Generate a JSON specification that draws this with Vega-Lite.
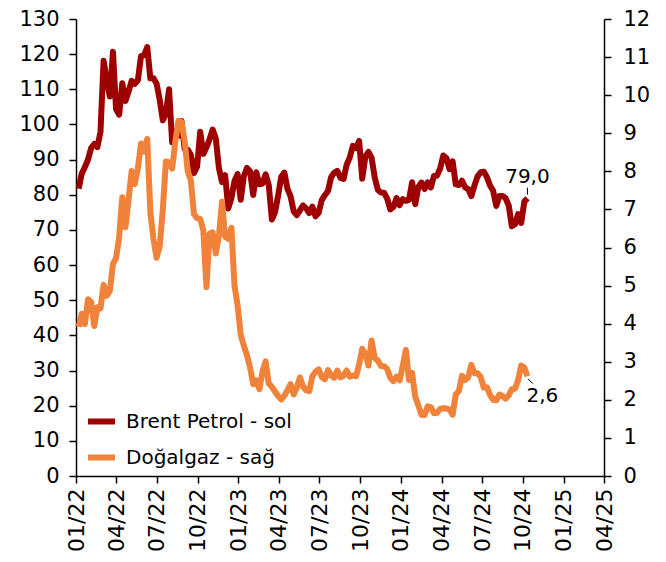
{
  "$schema": "https://vega.github.io/schema/vega-lite/v6.json",
  "width": 528,
  "height": 457,
  "autosize": "none",
  "padding": {"left": 76, "top": 19, "right": 62, "bottom": 86},
  "background": "white",
  "config": {
    "view": {"stroke": null},
    "font": "DejaVu Sans",
    "axis": {
      "labelFont": "DejaVu Sans",
      "labelFontSize": 21,
      "labelColor": "black",
      "domainColor": "black",
      "tickColor": "black",
      "domainWidth": 1.5,
      "tickWidth": 1.5,
      "tickSize": 7,
      "grid": false,
      "title": null,
      "labelOverlap": false,
      "labelFlush": false,
      "labelBound": false
    }
  },
  "datasets": {
    "prices": [
      {"d":"2022-01-07","b":81.75,"g":3.92},{"d":"2022-01-14","b":86.06,"g":4.26},{"d":"2022-01-21","b":87.89,"g":3.99},{"d":"2022-01-28","b":90.03,"g":4.64},
      {"d":"2022-02-04","b":93.27,"g":4.57},{"d":"2022-02-11","b":94.44,"g":3.94},{"d":"2022-02-18","b":93.54,"g":4.43},{"d":"2022-02-25","b":97.93,"g":4.40},
      {"d":"2022-03-04","b":118.11,"g":5.02},{"d":"2022-03-11","b":112.67,"g":4.73},{"d":"2022-03-18","b":107.93,"g":4.86},{"d":"2022-03-25","b":120.65,"g":5.57},
      {"d":"2022-04-01","b":104.39,"g":5.72},{"d":"2022-04-08","b":102.78,"g":6.28},{"d":"2022-04-15","b":111.70,"g":7.32},{"d":"2022-04-22","b":106.65,"g":6.53},{"d":"2022-04-29","b":109.34,"g":7.24},
      {"d":"2022-05-06","b":112.39,"g":8.01},{"d":"2022-05-13","b":111.55,"g":7.66},{"d":"2022-05-20","b":112.55,"g":8.08},{"d":"2022-05-27","b":119.43,"g":8.73},
      {"d":"2022-06-03","b":119.72,"g":8.52},{"d":"2022-06-10","b":122.01,"g":8.85},{"d":"2022-06-17","b":113.12,"g":6.93},{"d":"2022-06-24","b":113.12,"g":6.22},
      {"d":"2022-07-01","b":111.63,"g":5.73},{"d":"2022-07-08","b":107.02,"g":6.03},{"d":"2022-07-15","b":101.16,"g":7.00},{"d":"2022-07-22","b":103.20,"g":8.26},{"d":"2022-07-29","b":110.01,"g":8.23},
      {"d":"2022-08-05","b":94.92,"g":8.07},{"d":"2022-08-12","b":98.15,"g":8.77},{"d":"2022-08-19","b":96.72,"g":9.33},{"d":"2022-08-26","b":100.99,"g":9.30},
      {"d":"2022-09-02","b":93.02,"g":8.80},{"d":"2022-09-09","b":92.84,"g":8.00},{"d":"2022-09-16","b":91.35,"g":7.76},{"d":"2022-09-23","b":86.15,"g":6.88},{"d":"2022-09-30","b":87.96,"g":6.77},
      {"d":"2022-10-07","b":97.92,"g":6.75},{"d":"2022-10-14","b":91.63,"g":6.45},{"d":"2022-10-21","b":93.50,"g":4.96},{"d":"2022-10-28","b":95.77,"g":6.36},
      {"d":"2022-11-04","b":98.57,"g":6.40},{"d":"2022-11-11","b":95.99,"g":5.84},{"d":"2022-11-18","b":87.62,"g":6.30},{"d":"2022-11-25","b":83.63,"g":7.20},
      {"d":"2022-12-02","b":85.57,"g":6.28},{"d":"2022-12-09","b":76.10,"g":6.23},{"d":"2022-12-16","b":79.04,"g":6.52},{"d":"2022-12-23","b":83.92,"g":5.00},{"d":"2022-12-30","b":85.91,"g":4.48},
      {"d":"2023-01-06","b":78.57,"g":3.71},{"d":"2023-01-13","b":85.28,"g":3.42},{"d":"2023-01-20","b":87.63,"g":3.17},{"d":"2023-01-27","b":86.66,"g":2.85},
      {"d":"2023-02-03","b":79.94,"g":2.41},{"d":"2023-02-10","b":86.39,"g":2.51},{"d":"2023-02-17","b":83.00,"g":2.28},{"d":"2023-02-24","b":83.16,"g":2.75},
      {"d":"2023-03-03","b":85.83,"g":3.01},{"d":"2023-03-10","b":82.78,"g":2.43},{"d":"2023-03-17","b":72.97,"g":2.34},{"d":"2023-03-24","b":74.99,"g":2.22},{"d":"2023-03-31","b":79.77,"g":2.10},
      {"d":"2023-04-07","b":85.12,"g":2.01},{"d":"2023-04-14","b":86.31,"g":2.11},{"d":"2023-04-21","b":81.66,"g":2.25},{"d":"2023-04-28","b":79.54,"g":2.41},
      {"d":"2023-05-05","b":75.30,"g":2.14},{"d":"2023-05-12","b":74.17,"g":2.32},{"d":"2023-05-19","b":75.58,"g":2.59},{"d":"2023-05-26","b":76.95,"g":2.35},
      {"d":"2023-06-02","b":76.13,"g":2.25},{"d":"2023-06-09","b":74.79,"g":2.23},{"d":"2023-06-16","b":76.61,"g":2.62},{"d":"2023-06-23","b":73.85,"g":2.74},{"d":"2023-06-30","b":74.90,"g":2.80},
      {"d":"2023-07-07","b":78.47,"g":2.60},{"d":"2023-07-14","b":79.87,"g":2.54},{"d":"2023-07-21","b":81.07,"g":2.78},{"d":"2023-07-28","b":84.99,"g":2.64},
      {"d":"2023-08-04","b":86.24,"g":2.58},{"d":"2023-08-11","b":86.81,"g":2.77},{"d":"2023-08-18","b":84.80,"g":2.59},{"d":"2023-08-25","b":84.48,"g":2.63},
      {"d":"2023-09-01","b":88.55,"g":2.77},{"d":"2023-09-08","b":90.65,"g":2.61},{"d":"2023-09-15","b":93.93,"g":2.64},{"d":"2023-09-22","b":93.27,"g":2.62},{"d":"2023-09-29","b":95.31,"g":2.93},
      {"d":"2023-10-06","b":84.58,"g":3.34},{"d":"2023-10-13","b":90.89,"g":3.21},{"d":"2023-10-20","b":92.16,"g":2.90},{"d":"2023-10-27","b":90.48,"g":3.56},
      {"d":"2023-11-03","b":84.89,"g":3.10},{"d":"2023-11-10","b":81.43,"g":3.03},{"d":"2023-11-17","b":80.61,"g":2.89},{"d":"2023-11-24","b":80.58,"g":2.88},
      {"d":"2023-12-01","b":78.88,"g":2.81},{"d":"2023-12-08","b":75.84,"g":2.58},{"d":"2023-12-15","b":76.55,"g":2.49},{"d":"2023-12-22","b":79.07,"g":2.61},{"d":"2023-12-29","b":77.04,"g":2.51},
      {"d":"2024-01-05","b":78.76,"g":2.89},{"d":"2024-01-12","b":78.29,"g":3.31},{"d":"2024-01-19","b":78.56,"g":2.52},{"d":"2024-01-26","b":83.55,"g":2.71},
      {"d":"2024-02-02","b":77.33,"g":2.08},{"d":"2024-02-09","b":82.19,"g":1.85},{"d":"2024-02-16","b":83.47,"g":1.61},{"d":"2024-02-23","b":81.62,"g":1.60},
      {"d":"2024-03-01","b":83.55,"g":1.83},{"d":"2024-03-08","b":82.08,"g":1.81},{"d":"2024-03-15","b":85.34,"g":1.65},{"d":"2024-03-22","b":85.43,"g":1.66},{"d":"2024-03-29","b":87.48,"g":1.76},
      {"d":"2024-04-05","b":91.17,"g":1.78},{"d":"2024-04-12","b":90.45,"g":1.77},{"d":"2024-04-19","b":87.29,"g":1.75},{"d":"2024-04-26","b":89.50,"g":1.61},
      {"d":"2024-05-03","b":82.96,"g":2.14},{"d":"2024-05-10","b":82.79,"g":2.23},{"d":"2024-05-17","b":83.98,"g":2.63},{"d":"2024-05-24","b":82.12,"g":2.52},{"d":"2024-05-31","b":81.62,"g":2.59},
      {"d":"2024-06-07","b":79.62,"g":2.92},{"d":"2024-06-14","b":82.62,"g":2.70},{"d":"2024-06-21","b":85.24,"g":2.70},{"d":"2024-06-28","b":86.41,"g":2.60},
      {"d":"2024-07-05","b":86.54,"g":2.32},{"d":"2024-07-12","b":85.03,"g":2.33},{"d":"2024-07-19","b":82.63,"g":2.13},{"d":"2024-07-26","b":81.13,"g":2.00},
      {"d":"2024-08-02","b":76.81,"g":1.99},{"d":"2024-08-09","b":79.66,"g":2.14},{"d":"2024-08-16","b":79.68,"g":2.10},{"d":"2024-08-23","b":79.02,"g":2.03},{"d":"2024-08-30","b":76.93,"g":2.12},
      {"d":"2024-09-06","b":71.06,"g":2.28},{"d":"2024-09-13","b":71.61,"g":2.29},{"d":"2024-09-20","b":74.49,"g":2.51},{"d":"2024-09-27","b":71.98,"g":2.90},
      {"d":"2024-10-04","b":78.05,"g":2.85},{"d":"2024-10-11","b":79.04,"g":2.62}
    ],
    "lastBrent": [{"d":"2024-10-11","v":79.04,"label":"79,0"}],
    "lastGas": [{"d":"2024-10-11","v":2.62,"label":"2,6"}]
  },
  "layer": [
    {
      "layer": [
        {
          "data": {"name": "prices"},
          "mark": {"type": "line", "strokeWidth": 6, "strokeJoin": "round", "strokeCap": "butt"},
          "encoding": {
            "x": {"field": "d", "type": "temporal",
              "scale": {"domain": [{"year":2022,"month":1,"date":1},{"year":2025,"month":4,"date":1}]},
              "axis": {"format": "%m/%y", "labelAngle": -90, "labelAlign": "right", "labelBaseline": "middle", "labelPadding": 5, "labelFontSize": 22,
                "values": [{"year":2022,"month":1,"date":1},{"year":2022,"month":4,"date":1},{"year":2022,"month":7,"date":1},{"year":2022,"month":10,"date":1},
                           {"year":2023,"month":1,"date":1},{"year":2023,"month":4,"date":1},{"year":2023,"month":7,"date":1},{"year":2023,"month":10,"date":1},
                           {"year":2024,"month":1,"date":1},{"year":2024,"month":4,"date":1},{"year":2024,"month":7,"date":1},{"year":2024,"month":10,"date":1},
                           {"year":2025,"month":1,"date":1},{"year":2025,"month":4,"date":1}]}},
            "y": {"field": "b", "type": "quantitative", "scale": {"domain": [0, 130], "nice": false},
              "axis": {"orient": "left", "values": [0,10,20,30,40,50,60,70,80,90,100,110,120,130], "labelPadding": 10, "labelOverlap": false}},
            "color": {"datum": "Brent Petrol - sol", "type": "nominal",
              "scale": {"domain": ["Brent Petrol - sol", "Doğalgaz - sağ"], "range": ["#9E0000", "#F0823A"]},
              "legend": {"orient": "none", "legendX": 9, "legendY": 386, "title": null, "symbolType": "stroke",
                "symbolStrokeWidth": 6, "symbolSize": 729, "labelFont": "DejaVu Sans", "labelFontSize": 20,
                "labelColor": "black", "labelOffset": 8, "rowPadding": 7, "labelLimit": 400}}
          }
        },
        {
          "data": {"name": "lastBrent"},
          "mark": {"type": "text", "font": "DejaVu Sans", "fontSize": 20, "color": "black", "align": "center", "baseline": "alphabetic", "dy": -15},
          "encoding": {
            "x": {"field": "d", "type": "temporal"},
            "y": {"field": "v", "type": "quantitative",
              "axis": {"orient": "left", "values": [0,10,20,30,40,50,60,70,80,90,100,110,120,130], "labelPadding": 10, "labelOverlap": false}},
            "text": {"field": "label"}
          }
        },
        {
          "data": {"name": "lastBrent"},
          "mark": {"type": "point", "shape": "M0,-1L0,1", "size": 49, "filled": false, "stroke": "black", "strokeWidth": 1, "yOffset": -7, "opacity": 1},
          "encoding": {
            "x": {"field": "d", "type": "temporal"},
            "y": {"field": "v", "type": "quantitative",
              "axis": {"orient": "left", "values": [0,10,20,30,40,50,60,70,80,90,100,110,120,130], "labelPadding": 10, "labelOverlap": false}}
          }
        }
      ]
    },
    {
      "layer": [
        {
          "data": {"name": "prices"},
          "mark": {"type": "line", "strokeWidth": 6, "strokeJoin": "round", "strokeCap": "butt"},
          "encoding": {
            "x": {"field": "d", "type": "temporal"},
            "y": {"field": "g", "type": "quantitative", "scale": {"domain": [0, 12], "nice": false},
              "axis": {"orient": "right", "values": [0,1,2,3,4,5,6,7,8,9,10,11,12], "labelPadding": 12, "labelOverlap": false}},
            "color": {"datum": "Doğalgaz - sağ", "type": "nominal"}
          }
        },
        {
          "data": {"name": "lastGas"},
          "mark": {"type": "text", "font": "DejaVu Sans", "fontSize": 20, "color": "black", "align": "left", "baseline": "alphabetic", "dx": -1, "dy": 26},
          "encoding": {
            "x": {"field": "d", "type": "temporal"},
            "y": {"field": "v", "type": "quantitative",
              "axis": {"orient": "right", "values": [0,1,2,3,4,5,6,7,8,9,10,11,12], "labelPadding": 12, "labelOverlap": false}},
            "text": {"field": "label"}
          }
        },
        {
          "data": {"name": "lastGas"},
          "mark": {"type": "point", "shape": "M-1,-1L1,1", "size": 25, "filled": false, "stroke": "black", "strokeWidth": 1, "xOffset": 3, "yOffset": 5, "opacity": 1},
          "encoding": {
            "x": {"field": "d", "type": "temporal"},
            "y": {"field": "v", "type": "quantitative",
              "axis": {"orient": "right", "values": [0,1,2,3,4,5,6,7,8,9,10,11,12], "labelPadding": 12, "labelOverlap": false}}
          }
        }
      ]
    }
  ],
  "resolve": {"scale": {"y": "independent"}}
}
